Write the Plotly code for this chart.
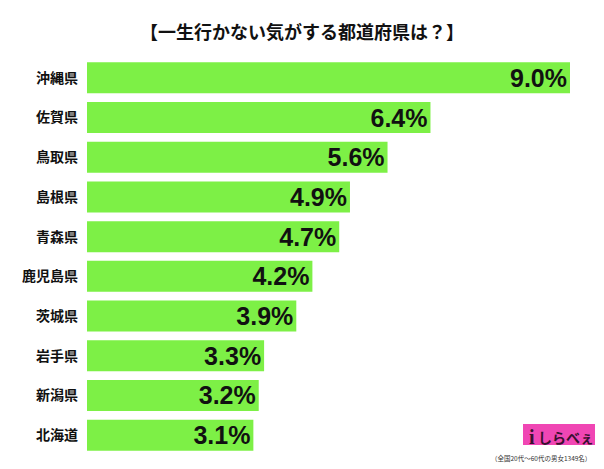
import plotly.graph_objects as go

prefectures = ["沖縄県", "佐賀県", "鳥取県", "島根県", "青森県", "鹿児島県", "茨城県", "岩手県", "新潟県", "北海道"]
values = [9.0, 6.4, 5.6, 4.9, 4.7, 4.2, 3.9, 3.3, 3.2, 3.1]
title_text = "【一生行かない気がする都道府県は？】"
footnote = "（全国20代～60代の男女1349名）"
logo_text = "しらべぇ"

W, H = 604, 469
L, R, T, B = 87, 0, 58, 14
pw, ph = W - L - R, H - T - B

def px(x):
    return (x - L) / pw

def py(y):
    return (H - B - y) / ph

fig = go.Figure(go.Bar(
    x=values,
    y=prefectures,
    orientation="h",
    marker=dict(color="#7DF046", line=dict(width=0)),
    texttemplate="%{x:.1f}%",
    textposition="inside",
    insidetextanchor="end",
    constraintext="none",
    textfont=dict(family="Liberation Sans, Arial, sans-serif", size=25, color="#111111", weight="bold"),
    hoverinfo="skip",
))

fig.update_layout(
    width=W, height=H,
    margin=dict(l=L, r=R, t=T, b=B),
    paper_bgcolor="white",
    plot_bgcolor="white",
    bargap=0.22,
    showlegend=False,
    title=dict(
        text=title_text,
        x=0.5, xref="container", xanchor="center",
        y=1 - 33 / H, yref="container", yanchor="middle",
        font=dict(family="Noto Sans CJK JP", size=18, color="#111111", weight="bold"),
    ),
    xaxis=dict(range=[0, 9.0 * pw / 483], visible=False, fixedrange=True),
    yaxis=dict(
        autorange="reversed",
        showgrid=False, zeroline=False, showline=False,
        ticks="", ticklabelstandoff=8,
        tickfont=dict(family="Noto Sans CJK JP", size=14, color="#111111", weight="bold"),
    ),
    shapes=[dict(
        type="rect", xref="paper", yref="paper",
        x0=px(523), x1=px(595), y0=py(445), y1=py(424),
        fillcolor="#F046B4", line=dict(width=0), layer="above",
    )],
    annotations=[
        dict(text=logo_text, xref="paper", yref="paper", x=px(566), y=py(437),
             xanchor="center", yanchor="middle", showarrow=False,
             font=dict(family="Noto Sans CJK JP", size=14, color="#3A1030", weight="bold")),
        dict(text="i", xref="paper", yref="paper", x=px(532), y=py(437),
             xanchor="center", yanchor="middle", showarrow=False,
             font=dict(family="Liberation Serif", size=20, color="#3A1030", weight="bold")),
        dict(text=footnote, xref="paper", yref="paper", x=px(593), y=py(458),
             xanchor="right", yanchor="middle", showarrow=False,
             font=dict(family="Noto Sans CJK JP", size=6.5, color="#333333")),
    ],
)

fig.write_html("out.html")
